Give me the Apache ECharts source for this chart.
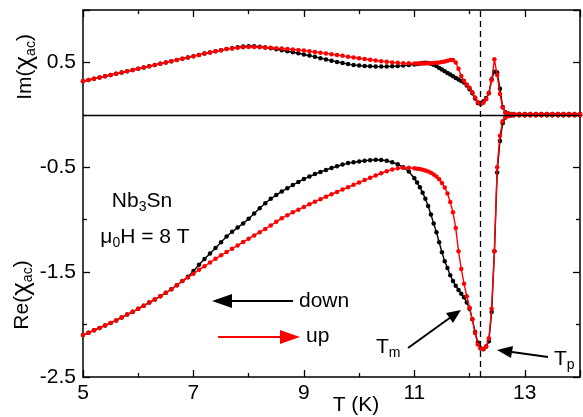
<!DOCTYPE html>
<html>
<head>
<meta charset="utf-8">
<script src="https://cdn.jsdelivr.net/npm/echarts@6/dist/echarts.min.js"></script>
<style>
  html, body { margin: 0; padding: 0; background: #fff; }
  #chart { width: 583px; height: 417px; }
</style>
</head>
<body>
<div id="chart"></div>
<script>
// temperature (K), shared by both sweeps
const tempK = [
  5.0, 5.1, 5.2, 5.3, 5.4, 5.5, 5.6, 5.7, 5.8, 5.9,
  6.0, 6.1, 6.2, 6.3, 6.4, 6.5, 6.6, 6.7, 6.8, 6.9,
  7.0, 7.1, 7.2, 7.3, 7.4, 7.5, 7.6, 7.7, 7.8, 7.9,
  8.0, 8.1, 8.2, 8.3, 8.4, 8.5, 8.6, 8.7, 8.8, 8.9,
  9.0, 9.1, 9.2, 9.3, 9.4, 9.5, 9.6, 9.7, 9.8, 9.9,
  10.0, 10.1, 10.2, 10.3, 10.4, 10.5, 10.6, 10.7, 10.8, 10.9,
  11.0, 11.05, 11.1, 11.15, 11.2, 11.25, 11.3, 11.35, 11.4, 11.45,
  11.5, 11.55, 11.6, 11.65, 11.7, 11.75, 11.8, 11.85, 11.9, 11.95,
  12.0, 12.05, 12.1, 12.15, 12.2, 12.25, 12.3, 12.35, 12.4, 12.45,
  12.5, 12.55, 12.6, 12.65, 12.7, 12.75,
  12.8, 12.9, 13.0, 13.1, 13.2, 13.3, 13.4, 13.5, 13.6, 13.7, 13.8, 13.9, 14.0
];

// Im(chi_ac), cooling (down) and warming (up)
const imDown = [
  0.320, 0.332, 0.344, 0.356, 0.368, 0.380, 0.392, 0.404, 0.416, 0.428,
  0.440, 0.452, 0.464, 0.476, 0.488, 0.500, 0.512, 0.524, 0.536, 0.548,
  0.560, 0.572, 0.584, 0.595, 0.606, 0.617, 0.627, 0.636, 0.644, 0.652,
  0.655, 0.654, 0.650, 0.643, 0.635, 0.626, 0.617, 0.607, 0.597, 0.587,
  0.576, 0.565, 0.553, 0.541, 0.529, 0.517, 0.505, 0.494, 0.484, 0.476,
  0.470, 0.466, 0.463, 0.461, 0.460, 0.461, 0.463, 0.466, 0.470, 0.475,
  0.481, 0.486, 0.490, 0.494, 0.496, 0.494, 0.488, 0.478, 0.465, 0.448,
  0.432, 0.416, 0.400, 0.385, 0.368, 0.352, 0.338, 0.324, 0.308, 0.280,
  0.245, 0.205, 0.155, 0.112, 0.112, 0.130, 0.160, 0.205, 0.340, 0.410,
  0.405, 0.250, 0.075, 0.025, 0.012, 0.008,
  0.008, 0.008, 0.008, 0.008, 0.008, 0.008, 0.008, 0.008, 0.008, 0.008, 0.008, 0.008, 0.008
];
const imUp = [
  0.320, 0.332, 0.344, 0.356, 0.368, 0.380, 0.392, 0.404, 0.416, 0.428,
  0.440, 0.452, 0.464, 0.476, 0.488, 0.500, 0.512, 0.524, 0.536, 0.548,
  0.560, 0.572, 0.584, 0.595, 0.606, 0.617, 0.627, 0.634, 0.640, 0.644,
  0.646, 0.646, 0.645, 0.643, 0.640, 0.636, 0.632, 0.628, 0.623, 0.618,
  0.613, 0.607, 0.600, 0.593, 0.586, 0.579, 0.571, 0.563, 0.555, 0.547,
  0.540, 0.533, 0.526, 0.519, 0.512, 0.506, 0.500, 0.496, 0.493, 0.491,
  0.490, 0.489, 0.489, 0.489, 0.490, 0.491, 0.492, 0.494, 0.496, 0.500,
  0.505, 0.510, 0.516, 0.522, 0.522, 0.500, 0.440, 0.370, 0.325, 0.290,
  0.258, 0.215, 0.165, 0.122, 0.100, 0.115, 0.150, 0.210, 0.330, 0.530,
  0.380, 0.200, 0.070, 0.020, 0.010, 0.008,
  0.008, 0.008, 0.008, 0.008, 0.008, 0.008, 0.008, 0.008, 0.008, 0.008, 0.008, 0.008, 0.008
];

// Re(chi_ac), cooling (down) and warming (up)
const reDown = [
  -2.100, -2.078, -2.055, -2.032, -2.008, -1.984, -1.960, -1.932, -1.905, -1.878,
  -1.850, -1.820, -1.790, -1.760, -1.730, -1.697, -1.663, -1.625, -1.585, -1.545,
  -1.490, -1.430, -1.375, -1.322, -1.270, -1.215, -1.160, -1.115, -1.075, -1.035,
  -0.990, -0.940, -0.890, -0.843, -0.800, -0.765, -0.730, -0.700, -0.670, -0.640,
  -0.612, -0.588, -0.565, -0.545, -0.525, -0.507, -0.490, -0.474, -0.460, -0.452,
  -0.445, -0.438, -0.432, -0.428, -0.430, -0.438, -0.452, -0.472, -0.500, -0.540,
  -0.605, -0.645, -0.690, -0.742, -0.800, -0.870, -0.950, -1.035, -1.120, -1.215,
  -1.310, -1.395, -1.460, -1.530, -1.585, -1.630, -1.670, -1.705, -1.740, -1.790,
  -1.850, -1.950, -2.070, -2.170, -2.225, -2.235, -2.210, -2.160, -1.880, -1.300,
  -0.550, -0.250, -0.080, -0.025, -0.010, -0.006,
  -0.004, -0.004, -0.004, -0.004, -0.004, -0.004, -0.004, -0.004, -0.004, -0.004, -0.004, -0.004, -0.004
];
const reUp = [
  -2.100, -2.078, -2.055, -2.032, -2.008, -1.984, -1.960, -1.932, -1.905, -1.878,
  -1.850, -1.820, -1.790, -1.760, -1.730, -1.697, -1.663, -1.625, -1.585, -1.550,
  -1.515, -1.478, -1.443, -1.408, -1.373, -1.340, -1.308, -1.277, -1.245, -1.213,
  -1.182, -1.150, -1.120, -1.088, -1.055, -1.020, -0.985, -0.957, -0.930, -0.904,
  -0.878, -0.853, -0.828, -0.804, -0.780, -0.757, -0.735, -0.713, -0.690, -0.667,
  -0.645, -0.622, -0.600, -0.578, -0.557, -0.537, -0.520, -0.510, -0.505, -0.505,
  -0.510, -0.513, -0.517, -0.523, -0.530, -0.540, -0.552, -0.568, -0.588, -0.615,
  -0.650, -0.692, -0.750, -0.830, -0.930, -1.080, -1.300, -1.470, -1.610, -1.730,
  -1.840, -1.950, -2.080, -2.190, -2.228, -2.232, -2.210, -2.130, -1.850, -1.300,
  -0.500, -0.200, -0.060, -0.020, -0.010, -0.006,
  -0.004, -0.004, -0.004, -0.004, -0.004, -0.004, -0.004, -0.004, -0.004, -0.004, -0.004, -0.004, -0.004
];

const peakT = 12.2;
const xTickLabels = [5, 7, 9, 11, 13];
const yTickLabels = [-2.5, -1.5, -0.5, 0.5];

const FONT = "'Liberation Sans', Arial, sans-serif";
const BLACK = "#000";
const RED = "#ff0000";

function pairs(ys) {
  return tempK.map((t, i) => [t, ys[i]]);
}

function curve(name, ys, color, z) {
  return {
    name: name,
    type: "line",
    data: pairs(ys),
    z: z,
    symbol: "circle",
    symbolSize: 4.5,
    showSymbol: true,
    color: color,
    lineStyle: { color: color, width: 1.4 },
    itemStyle: { color: color },
    silent: true
  };
}

function rich(size) {
  return {
    n: { fontSize: size, fontFamily: FONT, color: BLACK, lineHeight: size + 6 },
    g: { fontSize: size + 5, fontFamily: FONT, color: BLACK, lineHeight: size + 6 },
    s: { fontSize: Math.round(size * 0.68), fontFamily: FONT, color: BLACK, verticalAlign: "bottom" },
    r: { fontSize: size, fontFamily: FONT, color: RED, lineHeight: size + 6 }
  };
}

function label(text, x, y, align, rotation) {
  return {
    type: "text",
    x: x,
    y: y,
    rotation: rotation || 0,
    silent: true,
    style: {
      text: text,
      rich: rich(21),
      align: align || "center",
      verticalAlign: "middle"
    }
  };
}

function arrow(x1, y1, x2, y2, head, color) {
  return [
    { type: "line", silent: true, shape: { x1: x1, y1: y1, x2: x2, y2: y2 },
      style: { stroke: color, lineWidth: 2 } },
    { type: "polygon", silent: true, shape: { points: head },
      style: { fill: color } }
  ];
}

const axisCommon = {
  axisLine: { show: true, onZero: false, lineStyle: { color: BLACK, width: 1.5 } },
  axisTick: { show: true, inside: true, length: 7, lineStyle: { color: BLACK, width: 1.3 } },
  minorTick: { show: true, splitNumber: 2, length: 4, lineStyle: { color: BLACK, width: 1.3 } },
  splitLine: { show: false }
};

let option = {
  animation: false,
  grid: { left: 83, right: -2, top: 10, bottom: 40 },
  xAxis: [
    Object.assign({
      type: "value", position: "bottom", min: 5, max: 14, interval: 2,
      axisLabel: {
        fontSize: 21, fontFamily: FONT, color: BLACK, margin: 6,
        formatter: v => (xTickLabels.indexOf(v) >= 0 ? String(v) : "")
      }
    }, axisCommon),
    Object.assign({
      type: "value", position: "top", min: 5, max: 14, interval: 2,
      axisLabel: { show: false }
    }, axisCommon)
  ],
  yAxis: [
    Object.assign({
      type: "value", position: "left", min: -2.5, max: 1.0, interval: 1,
      axisLabel: {
        fontSize: 21, fontFamily: FONT, color: BLACK, margin: 7,
        formatter: v => (yTickLabels.indexOf(v) >= 0 ? v.toFixed(1) : "")
      }
    }, axisCommon),
    Object.assign({
      type: "value", position: "right", min: -2.5, max: 1.0, interval: 1,
      axisLabel: { show: false }
    }, axisCommon)
  ],
  series: [
    Object.assign(curve("Im down", imDown, BLACK, 2), {
      markLine: {
        silent: true,
        symbol: "none",
        label: { show: false },
        lineStyle: { color: BLACK, width: 1.3 },
        data: [
          { yAxis: 0, lineStyle: { type: "solid" } },
          { xAxis: peakT, lineStyle: { type: [6, 4] } }
        ]
      }
    }),
    curve("Re down", reDown, BLACK, 2),
    curve("Im up", imUp, RED, 3),
    curve("Re up", reUp, RED, 3)
  ],
  graphic: [
    label("{n|Im(}{g|χ}{s|ac}{n|)}", 25, 67, "center", Math.PI / 2),
    label("{n|Re(}{g|χ}{s|ac}{n|)}", 22, 295, "center", Math.PI / 2),
    label("{n|T (K)}", 356, 405, "center"),
    label("{n|Nb}{s|3}{n|Sn}", 142, 201, "center"),
    label("{n|μ}{s|0}{n|H = 8 T}", 145, 237, "center"),
    label("{n|down}", 299, 301, "left"),
    label("{r|up}", 306, 336, "left"),
    label("{n|T}{s|m}", 376, 347, "left"),
    label("{n|T}{s|p}", 554, 359, "left")
  ]
    .concat(arrow(231, 301, 293, 301, [[212, 301], [232, 294], [232, 308]], BLACK))
    .concat(arrow(218, 337, 282, 337, [[300, 337], [280, 330], [280, 344]], RED))
    .concat(arrow(408, 348, 451, 317, [[461, 310], [453, 323], [446, 313]], BLACK))
    .concat(arrow(548, 357, 512, 352, [[497, 350], [513, 346], [511, 358]], BLACK))
};

let myChart = echarts.init(document.getElementById("chart"));
myChart.setOption(option);
</script>
</body>
</html>
